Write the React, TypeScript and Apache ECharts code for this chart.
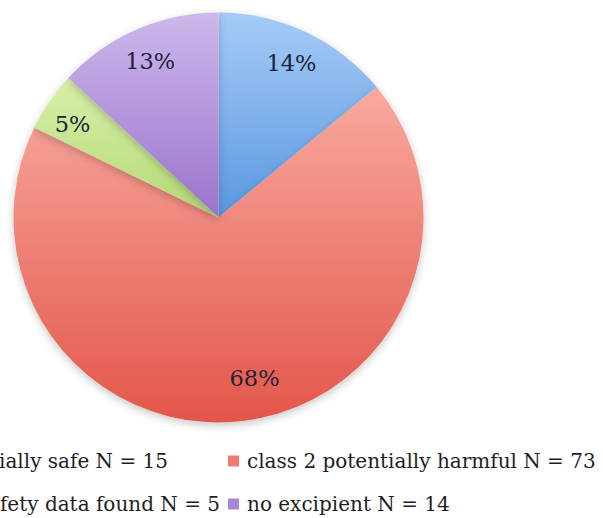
import React, { useEffect, useRef } from "react";
import * as echarts from "echarts";

const categories = [
  "class 1 potentially safe N = 15",
  "class 2 potentially harmful N = 73",
  "no safety data found N = 5",
  "no excipient N = 14",
];
const counts = [15, 73, 5, 14];
const topColors = ["#a6cbf7", "#f9a99f", "#d9efa9", "#cdb8ec"];
const bottomColors = ["#5a98e0", "#e3564a", "#b2da74", "#9a73cc"];
const legendSolid = ["#5b9be0", "#ef7a72", "#b9df83", "#a487d6"];

export default function App() {
  const ref = useRef<HTMLDivElement>(null);
  useEffect(() => {
    document.body.style.margin = "0";
    const chart = echarts.init(ref.current!, null, { renderer: "svg" });
    const grad = (i: number) =>
      new echarts.graphic.LinearGradient(0, 0, 0, 1, [
        { offset: 0, color: topColors[i] },
        { offset: 1, color: bottomColors[i] },
      ]);
    const pieData = categories.map((name, i) => ({
      name,
      value: counts[i],
      itemStyle: { color: grad(i) },
    }));
    const labelData = categories.map((name, i) =>
      i === 1
        ? { name, value: counts[i], label: { offset: [16, -9] } }
        : i === 2
        ? { name, value: counts[i], label: { offset: [-5, 3] } }
        : { name, value: counts[i] }
    );
    const font = "'DejaVu Serif', 'Liberation Serif', serif";
    const legendPos = [
      { right: 603 - 168, top: 448 },
      { left: 228, top: 448 },
      { right: 603 - 220, top: 491 },
      { left: 228, top: 491 },
    ];
    chart.setOption({
      animation: false,
      color: legendSolid,
      legend: categories.map((name, i) => ({
        data: [{ name, itemStyle: { color: legendSolid[i] } }],
        ...legendPos[i],
        padding: 0,
        orient: "horizontal",
        icon: "rect",
        itemWidth: 11,
        itemHeight: 11,
        selectedMode: false,
        textStyle: {
          fontFamily: font,
          fontSize: 20,
          color: "#1e1e1e",
          lineHeight: 26,
          padding: [0, 0, 0, 3],
        },
      })),
      series: [
        {
          type: "pie",
          center: [218.5, 217.5],
          radius: [0, 205],
          startAngle: 90,
          clockwise: true,
          silent: true,
          label: { show: false },
          labelLine: { show: false },
          itemStyle: {
            borderWidth: 0,
            shadowColor: "rgba(0,0,0,0.22)",
            shadowBlur: 8,
            shadowOffsetY: 3,
          },
          data: pieData,
        },
        {
          type: "pie",
          center: [218.5, 217.5],
          radius: [131, 205],
          startAngle: 90,
          clockwise: true,
          silent: true,
          percentPrecision: 0,
          itemStyle: { color: "rgba(0,0,0,0)", borderWidth: 0 },
          labelLine: { show: false },
          label: {
            show: true,
            position: "inside",
            formatter: "{d}%",
            fontFamily: font,
            fontSize: 22.5,
            color: "#1c2236",
          },
          data: labelData,
        },
      ],
    });
    return () => chart.dispose();
  }, []);
  return <div ref={ref} style={{ width: 603, height: 518, background: "#fff" }} />;
}
